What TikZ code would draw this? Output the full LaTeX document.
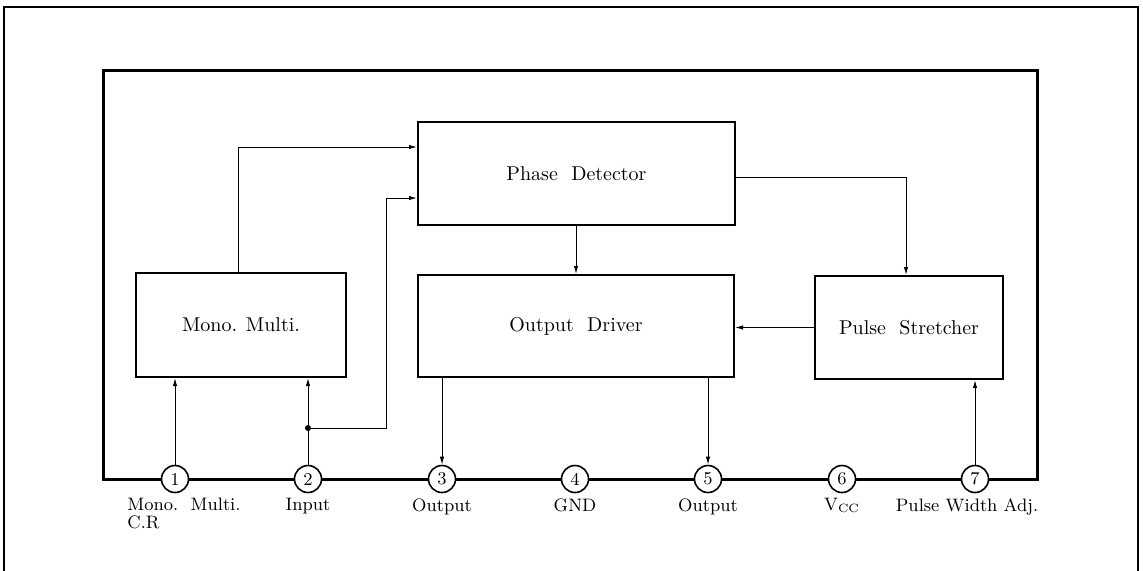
\documentclass[tikz,border=0pt]{standalone}
\usepackage{tikz}
\usetikzlibrary{arrows.meta,%
                positioning}

\begin{document}
\begin{tikzpicture} [x=0.5pt, y=-0.5pt]
        \tikzset{
          blockbox/.style={draw, line width=1pt, inner sep=0pt, align=center},
          pinball/.style={draw, circle, fill=white, line width=0.8pt, minimum size=13.5pt, inner sep=0pt, font=\small},
          pinlabel/.style={font=\small, inner sep=0pt, align=center},
          sig/.style={line width=0.5pt, -{Latex[length=4pt,width=2.2pt]}},
          jdot/.style={circle, fill, minimum size=3pt, inner sep=0pt},
        }
        \useasboundingbox (0,0) rectangle (1143,570);
        % outer frame
        \draw [line width=0.6pt] (4,575) -- (4,7) -- (1138,7) -- (1138,575);
        % chip outline
        \draw [line width=1.5pt] (103,70) rectangle (1037,479);
        % 
        \node [blockbox, minimum width=158.5pt, minimum height=51.5pt] (pd) at (576.5,173.5) {Phase~~Detector};
        \node [blockbox, minimum width=158pt, minimum height=51pt] (od) at (576,326) {Output~~Driver};
        \node [blockbox, minimum width=105pt, minimum height=52pt] (mm) at (241,325) {Mono. Multi.};
        \node [blockbox, minimum width=94pt, minimum height=51.5pt] (ps) at (909,327.5) {Pulse~~Stretcher};
        % 
        \node [pinball] (p1) at (175,479) {1};
        \node [pinball] (p2) at (308,479) {2};
        \node [pinball] (p3) at (442,479) {3};
        \node [pinball] (p4) at (575,479) {4};
        \node [pinball] (p5) at (708,479) {5};
        \node [pinball] (p6) at (842,479) {6};
        \node [pinball] (p7) at (975,479) {7};
        % 
        \node [pinlabel, anchor=north west, align=left] (l1) at (127,498) {Mono.~~Multi.\\[-2pt]C.R};
        \node [pinlabel, anchor=north] (l2) at (308,498) {Input};
        \node [pinlabel, anchor=north] (l3) at (442,498) {Output};
        \node [pinlabel, anchor=north] (l4) at (575,498) {GND};
        \node [pinlabel, anchor=north] (l5) at (708,498) {Output};
        \node [pinlabel, anchor=north] (l6) at (842,498) {V\textsubscript{CC}};
        \node [pinlabel, anchor=north] (l7) at (967,498) {Pulse Width Adj.};
        % 
        \coordinate (mmup) at (238,147);
        \coordinate (inup) at (386,198);
        \coordinate (pdps) at (906,177);
        \node [jdot] (join) at (308,428) {};
        % 
        \draw [sig] (p1.north) -- (p1.north |- mm.south);
        \draw [sig] (p2.north) -- (p2.north |- mm.south);
        \draw [sig] (join) -| (inup) -- (inup -| pd.west);
        \draw [sig] (mm.north -| mmup) -- (mmup) -- (mmup -| pd.west);
        % 
        \draw [sig] (od.north |- pd.south) -- (od.north);
        \draw [sig] (pdps -| pd.east) -- (pdps) -- (pdps |- ps.north);
        \draw [sig] (ps.west) -- (ps.west -| od.east);
        % 
        \draw [sig] (od.south -| p3) -- (p3.north);
        \draw [sig] (od.south -| p5) -- (p5.north);
        \draw [sig] (p7.north) -- (p7.north |- ps.south);
    \end{tikzpicture}
\end{document}
